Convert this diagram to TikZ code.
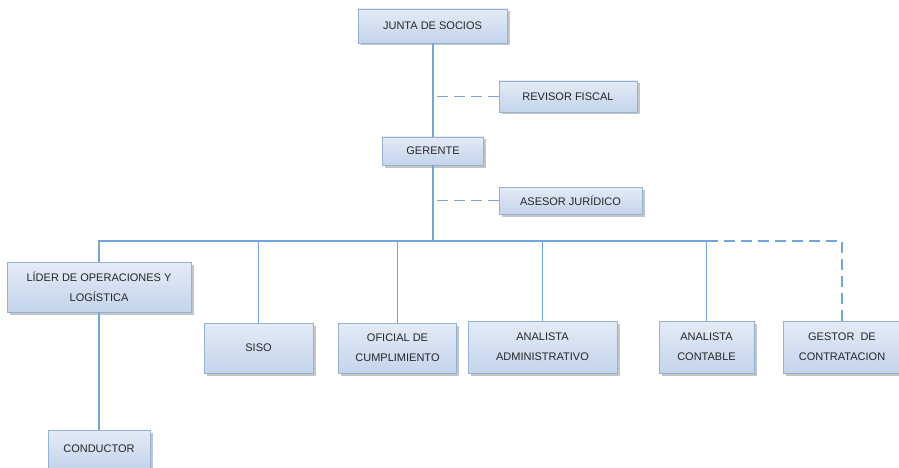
\documentclass[tikz,border=0pt]{standalone}
\usepackage{fontspec}
\setmainfont{Liberation Sans}
\usetikzlibrary{shadows}
\definecolor{linkblue}{HTML}{72A5DD}
\definecolor{boxedge}{HTML}{94B1D6}
\definecolor{boxtop}{HTML}{E4EBF6}
\definecolor{boxmid}{HTML}{F1F5FB}
\definecolor{boxbot}{HTML}{C3D4EB}
\begin{document}
\begin{tikzpicture}[x=1pt,y=-1pt,
  unit/.style={draw=boxedge, line width=0.9pt, rectangle,
    top color=boxtop, middle color=boxmid, bottom color=boxbot,
    drop shadow={shadow xshift=2.5pt, shadow yshift=-2.5pt, fill=black!45, opacity=0.5},
    font=\fontsize{11}{20}\selectfont, text=black!85, align=center, inner sep=0pt},
  link/.style={draw=linkblue, line width=1.7pt},
  dlink/.style={link, dash pattern=on 11pt off 6pt}]
\useasboundingbox (0,0) rectangle (899,468);

% top of the hierarchy
\node[unit, minimum width=149pt, minimum height=34pt] (junta) at (432.5,26) {JUNTA DE SOCIOS};
\node[unit, minimum width=138pt, minimum height=31pt] (revisor) at (568,96.5) {REVISOR FISCAL};
\node[unit, minimum width=101pt, minimum height=28pt] (gerente) at (433,151) {GERENTE};
\node[unit, minimum width=143pt, minimum height=27pt] (asesor) at (570.5,200.5) {ASESOR JURÍDICO};

% second level
\node[unit, minimum width=184pt, minimum height=50pt] (lider) at (99,287) {LÍDER DE OPERACIONES Y\\LOGÍSTICA};
\node[unit, minimum width=109pt, minimum height=50pt] (siso) at (258.5,348) {SISO};
\node[unit, minimum width=118pt, minimum height=50pt] (oficial) at (397.5,348) {OFICIAL DE\\CUMPLIMIENTO};
\node[unit, minimum width=149pt, minimum height=52pt] (admin) at (542.5,347) {ANALISTA\\ADMINISTRATIVO};
\node[unit, minimum width=95pt, minimum height=52pt] (contable) at (706.5,347) {ANALISTA\\CONTABLE};
\node[unit, minimum width=117pt, minimum height=52pt] (gestor) at (842,347) {GESTOR\ \ DE\\CONTRATACION};
\node[unit, minimum width=102pt, minimum height=38pt] (conductor) at (99,449) {CONDUCTOR};

% connectors
\coordinate (bus) at (433,241);
\draw[link] (junta.south -| gerente) -- (gerente.north);
\draw[link, line width=2.3pt] (gerente.south) -- (bus);
\draw[dlink] (revisor.west) -- (revisor.west -| gerente);
\draw[dlink] (asesor.west) -- (asesor.west -| gerente);
\draw[link] (bus) -| (lider.north);
\draw[link] (bus) -| (siso.north);
\draw[link] (bus) -| (oficial.north);
\draw[link] (bus) -| (admin.north);
\draw[link] (bus) -| (contable.north);
\draw[dlink] (bus -| contable) -| (gestor.north);
\draw[link] (lider.south) -- (conductor.north);
\end{tikzpicture}
\end{document}
